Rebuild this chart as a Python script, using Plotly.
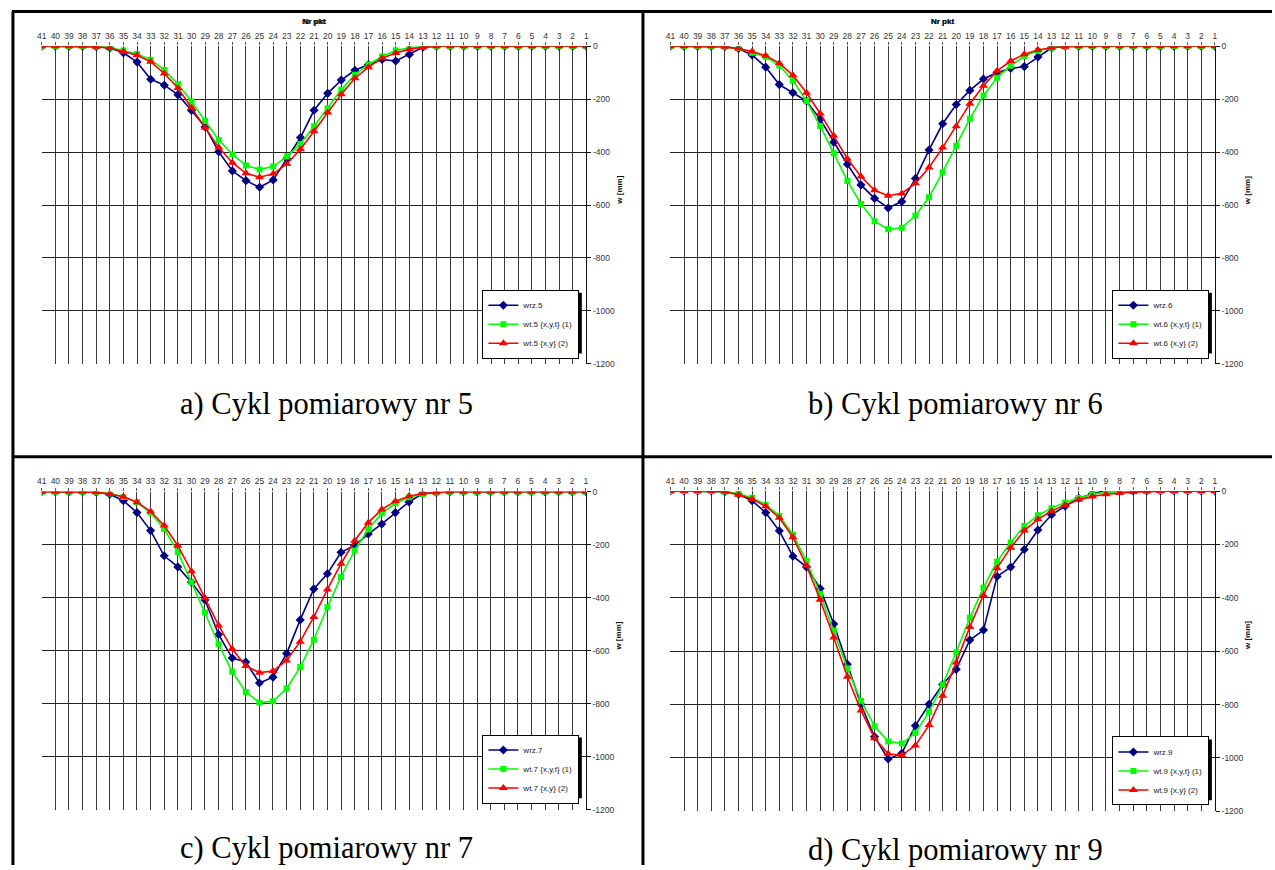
import plotly.graph_objects as go

# ---- data -------------------------------------------------------------
points = list(range(41, 0, -1))  # Nr pkt 41 .. 1
point_labels = [str(p) for p in points]

y_ticks = [0, -200, -400, -600, -800, -1000, -1200]
y_tick_labels = ["0", "-200", "-400", "-600", "-800", "-1000", "-1200"]

cycles = ["5", "6", "7", "9"]
captions = ["a) Cykl pomiarowy nr 5", "b) Cykl pomiarowy nr 6",
            "c) Cykl pomiarowy nr 7", "d) Cykl pomiarowy nr 9"]

wrz_5 = [0, 0, 0, 0, -2, -7, -25, -60, -125, -147, -183, -243, -305, -399, -471, -508, -533,
         -505, -424, -345, -242, -178, -128, -91, -69, -50, -56, -31, -4] + [0] * 12
wt1_5 = [0, 0, 0, 0, -1, -5, -16, -29, -51, -90, -143, -209, -283, -354, -409, -451, -466,
         -454, -417, -369, -302, -234, -164, -108, -69, -39, -16, -6, -1] + [0] * 12
wt2_5 = [0, 0, 0, 0, -2, -7, -20, -34, -59, -103, -158, -232, -308, -383, -440, -480, -495,
         -482, -445, -389, -321, -250, -181, -121, -79, -45, -26, -11, -4] + [0] * 12

wrz_6 = [0, 0, 0, 0, -2, -9, -33, -79, -145, -176, -207, -276, -363, -446, -524, -575, -611,
         -587, -500, -392, -293, -220, -167, -124, -99, -84, -77, -41, -6] + [0] * 12
wt1_6 = [0, 0, 0, 0, -2, -8, -25, -40, -73, -130, -207, -301, -404, -509, -596, -661, -692,
         -686, -640, -571, -476, -376, -274, -186, -119, -74, -37, -17, -6, -2] + [0] * 11
wt2_6 = [0, 0, 0, 0, -2, -9, -20, -36, -64, -110, -176, -254, -338, -425, -492, -544, -565,
         -556, -518, -458, -383, -302, -217, -149, -93, -56, -30, -14, -6, -2] + [0] * 11

wrz_7 = [0, 0, 0, 0, -2, -10, -34, -79, -147, -242, -284, -342, -409, -539, -628, -643, -722,
         -700, -611, -484, -367, -310, -229, -203, -160, -122, -79, -39, -7, -3] + [0] * 11
wt1_7 = [0, 0, 0, 0, -2, -7, -20, -40, -80, -141, -228, -342, -456, -576, -680, -756, -796,
         -791, -743, -662, -559, -436, -322, -222, -142, -82, -44, -21, -10, -4] + [0] * 11
wt2_7 = [0, 0, 0, 0, -2, -9, -19, -40, -75, -128, -204, -300, -401, -505, -594, -658, -683,
         -677, -637, -566, -473, -369, -272, -185, -117, -67, -36, -17, -7, -3] + [0] * 11

wrz_9 = [0, 0, 0, 0, -2, -12, -36, -81, -149, -244, -285, -365, -498, -649, -800, -921, -1004,
         -983, -879, -799, -725, -668, -558, -521, -320, -285, -219, -146, -89, -57, -27, -10,
         2, 0] + [0] * 7
wt1_9 = [0, 0, 0, 0, -2, -10, -25, -51, -93, -163, -262, -386, -523, -665, -786, -881, -938,
         -946, -906, -828, -725, -604, -475, -362, -264, -193, -131, -91, -64, -43, -26, -12,
         -4, -2] + [0] * 7
wt2_9 = [0, 0, 0, 0, -3, -14, -30, -57, -100, -173, -280, -407, -549, -696, -822, -926, -984,
         -990, -953, -877, -767, -642, -509, -390, -289, -212, -148, -106, -75, -52, -33, -20,
         -12, -7, -4, -2] + [0] * 5

measured = [wrz_5, wrz_6, wrz_7, wrz_9]
theory1 = [wt1_5, wt1_6, wt1_7, wt1_9]
theory2 = [wt2_5, wt2_6, wt2_7, wt2_9]

# ---- layout geometry (pixels in a 1275 x 870 page) -------------------
W, H = 1275, 870
panels = [  # x0, x1, ytop, ybottom
    (37, 585, 41.7, 363),
    (669.6, 1217.5, 41.7, 363),
    (37, 584.5, 492.3, 814),
    (669.6, 1217.5, 491.7, 815.7),
]
legend_pos = [(578, 288), (1212, 288), (578, 738), (1212, 740)]
legend_size = (96, 62)
caption_pos = [(324, 404), (957, 404), (324, 853), (957, 855)]

def px(x):
    return x / W

def py(y):
    return 1 - y / H

fig = go.Figure()
annotations = []
shapes = []
axis_font = dict(family="Liberation Sans, Arial, sans-serif", size=8.5, color="#333333")

for i, cyc in enumerate(cycles):
    n = "" if i == 0 else str(i + 1)
    xa, ya = "x" + n, "y" + n
    leg = "legend" if i == 0 else "legend" + str(i + 1)
    series = [
        ("wrz." + cyc, measured[i], "#000080", "diamond", 7),
        ("wt." + cyc + " {x,y,t} (1)", theory1[i], "#00FF00", "square", 6),
        ("wt." + cyc + " {x,y} (2)", theory2[i], "#FF0000", "triangle-up", 8),
    ]
    for name, vals, col, sym, ms in series:
        assert len(vals) == 41, (name, len(vals))
        fig.add_trace(go.Scatter(
            x=points, y=vals, name=name, mode="lines+markers",
            line=dict(color=col, width=1.6),
            marker=dict(symbol=sym, size=ms, color=col),
            xaxis=xa, yaxis=ya, legend=leg,
        ))
    x0, x1, yt, yb = panels[i]
    fig.layout["xaxis" + n] = dict(
        domain=[px(x0), px(x1)], anchor=ya, side="top",
        range=[41, 1], tickvals=points, ticktext=point_labels,
        showgrid=True, gridcolor="#3a3a3a", gridwidth=1, zeroline=False,
        showline=False, ticks="outside", ticklen=3, tickcolor="#555555",
        tickfont=axis_font,
    )
    fig.layout["yaxis" + n] = dict(
        domain=[py(yb), py(yt)], anchor=xa, side="right",
        range=[-1200, 0], tickvals=y_ticks, ticktext=y_tick_labels,
        showgrid=True, gridcolor="#222222", gridwidth=1, zeroline=False,
        showline=True, linecolor="#111111", linewidth=1,
        ticks="outside", ticklen=4, tickcolor="#111111",
        tickfont=axis_font,
    )
    lx, ly = legend_pos[i]
    fig.layout[leg] = dict(
        x=px(lx), y=py(ly), xanchor="right", yanchor="top",
        bgcolor="white", bordercolor="#000000", borderwidth=1,
        font=dict(family="Liberation Sans, Arial, sans-serif", size=8, color="#222222"),
        itemwidth=30,
    )
    lw, lh = legend_size
    shapes.append(dict(
        type="rect", xref="paper", yref="paper",
        x0=px(lx - lw + 3), x1=px(lx + 2.5), y0=py(ly + lh + 2.5), y1=py(ly + 3),
        fillcolor="#000000", line=dict(width=0), layer="above",
    ))
    annotations.append(dict(
        text="<b>Nr pkt</b>", xref="paper", yref="paper",
        x=px((x0 + x1) / 2), y=py(17), showarrow=False,
        font=dict(family="Liberation Sans, Arial, sans-serif", size=8, color="#111111"),
        xanchor="center", yanchor="middle",
    ))
    annotations.append(dict(
        text="<b>w [mm]</b>", xref="paper", yref="paper",
        x=px(x1 + 33), y=py(yt + 146), showarrow=False, textangle=-90,
        font=dict(family="Liberation Sans, Arial, sans-serif", size=8, color="#111111"),
        xanchor="center", yanchor="middle",
    ))
    cx, cy = caption_pos[i]
    annotations.append(dict(
        text=captions[i], xref="paper", yref="paper",
        x=px(cx), y=py(cy), showarrow=False,
        font=dict(family="Liberation Serif, Times New Roman, serif", size=30.5, color="#000000"),
        xanchor="center", yanchor="middle",
    ))

border = dict(color="#000000", width=3)
shapes += [
    dict(type="line", xref="paper", yref="paper", x0=px(7), x1=1, y0=py(6.5), y1=py(6.5), line=border),
    dict(type="line", xref="paper", yref="paper", x0=px(8), x1=px(8), y0=0, y1=py(6.5), line=border),
    dict(type="line", xref="paper", yref="paper", x0=px(642), x1=px(642), y0=0, y1=py(6.5), line=border),
    dict(type="line", xref="paper", yref="paper", x0=px(7), x1=1, y0=py(457), y1=py(457), line=border),
]

fig.update_layout(
    width=W, height=H, margin=dict(l=0, r=0, t=0, b=0),
    paper_bgcolor="white", plot_bgcolor="white",
    showlegend=True, annotations=annotations, shapes=shapes,
)

fig.write_html("out.html", config={"displayModeBar": False},
               post_script="document.body.style.margin='0';")
